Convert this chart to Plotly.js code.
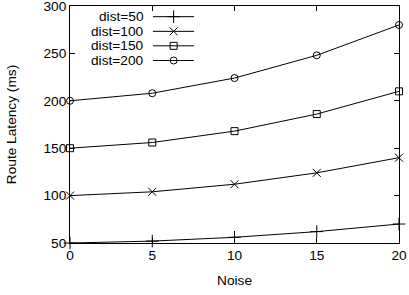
<!DOCTYPE html>
<html><head><meta charset="utf-8">
<script src="https://cdn.plot.ly/plotly-3.0.1.min.js"></script>
<style>html,body{margin:0;padding:0;background:#fff}#chart{width:409px;height:295px}</style>
</head><body><div id="chart"></div>
<script>
const noise = [0, 5, 10, 15, 20];
const dist50 = [50, 52, 56, 62, 70];
const dist100 = [100, 104, 112, 124, 140];
const dist150 = [150, 156, 168, 186, 210];
const dist200 = [200, 208, 224, 248, 280];
const seriesNames = ['dist=50', 'dist=100', 'dist=150', 'dist=200'];
const seriesValues = [dist50, dist100, dist150, dist200];
const symbols = ['cross-thin-open', 'x-thin-open', 'square-open', 'circle-open'];
const sizes = [9, 8, 7, 7];
const yTicks = [50, 100, 150, 200, 250, 300];
const xTicks = [0, 5, 10, 15, 20];

const font = {family: 'Liberation Sans, Arial, sans-serif', size: 13.7, color: '#000'};
const traces = seriesValues.map((v, i) => ({
  x: noise, y: v, type: 'scatter', mode: 'lines+markers', name: seriesNames[i],
  line: {color: '#000', width: 1},
  marker: {symbol: symbols[i], size: sizes[i], color: '#000', line: {color: '#000', width: 1}},
  showlegend: false, cliponaxis: false
}));

const legRowY = [0.955, 0.893, 0.832, 0.77];
const legX0 = 0.252, legX1 = 0.377, legXm = 0.315, legTextX = 0.232;
const shapes = [], annotations = [];
legRowY.forEach((yy, i) => {
  shapes.push({type: 'line', xref: 'paper', yref: 'paper', x0: legX0, x1: legX1, y0: yy, y1: yy, line: {color: '#000', width: 1}});
  annotations.push({xref: 'paper', yref: 'paper', x: legTextX, y: yy, text: seriesNames[i], showarrow: false, xanchor: 'right', yanchor: 'middle', font: font});
  traces.push({x: [legXm], y: [yy], xaxis: 'x2', yaxis: 'y2', type: 'scatter', mode: 'markers', showlegend: false, hoverinfo: 'skip',
    marker: {symbol: symbols[i], size: sizes[i], color: '#000', line: {color: '#000', width: 1}}, cliponaxis: false});
});

const layout = {
  width: 409, height: 295,
  margin: {l: 70, r: 10, t: 6, b: 52},
  paper_bgcolor: '#fff', plot_bgcolor: '#fff',
  font: font,
  showlegend: false,
  xaxis: {range: [0, 20], tickvals: xTicks, ticks: 'inside', ticklen: 5, tickcolor: '#000', mirror: 'allticks',
    showline: true, linecolor: '#000', linewidth: 1, showgrid: false, zeroline: false, tickfont: font,
    ticklabeloverflow: 'allow',
    title: {text: 'Noise', font: font, standoff: 12}},
  yaxis: {range: [50, 300], tickvals: yTicks, ticks: 'inside', ticklen: 5, tickcolor: '#000', mirror: 'allticks',
    showline: true, linecolor: '#000', linewidth: 1, showgrid: false, zeroline: false, tickfont: font,
    ticklabeloverflow: 'allow',
    title: {text: 'Route Latency (ms)', font: font, standoff: 23}},
  xaxis2: {range: [0, 1], visible: false, overlaying: 'x', anchor: 'y2'},
  yaxis2: {range: [0, 1], visible: false, overlaying: 'y', anchor: 'x2'},
  shapes: shapes, annotations: annotations
};
Plotly.newPlot('chart', traces, layout, {staticPlot: true});
</script></body></html>
